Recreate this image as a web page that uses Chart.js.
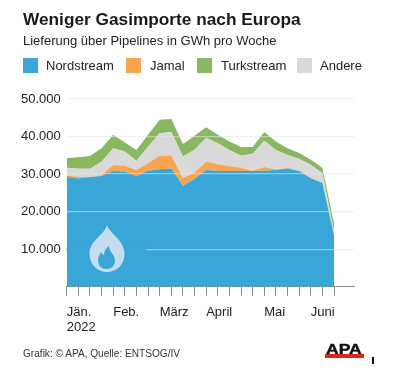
<!DOCTYPE html>
<html lang="de">
<head>
<meta charset="utf-8">
<title>Weniger Gasimporte nach Europa</title>
<script src="https://cdn.jsdelivr.net/npm/chart.js@4"></script>
<style>
  html, body { margin: 0; padding: 0; background: #fff; }
  #page { position: relative; width: 400px; height: 379px; overflow: hidden; font-family: "Liberation Sans", Arial, sans-serif; color: #222; }
  #page > div, #page > canvas { position: absolute; }
  #title { left: 23px; top: 9px; font-size: 17.25px; font-weight: bold; color: #1a1a1a; white-space: nowrap; }
  #subtitle { left: 23px; top: 33px; font-size: 13px; white-space: nowrap; }
  .box { top: 58px; width: 15px; height: 15px; }
  .lbl { top: 57px; font-size: 13px; line-height: 17px; white-space: nowrap; }
  #source { left: 23px; top: 348px; font-size: 10.1px; color: #333; white-space: nowrap; }
  #logo { left: 326px; top: 341px; font-size: 14px; font-weight: bold; color: #111; white-space: nowrap; transform: scaleX(1.25); transform-origin: left; -webkit-text-stroke: 0.4px #111; }
  #logobar { left: 325px; top: 354px; width: 39px; height: 4px; background: #e2231a; }
  #mark { left: 372px; top: 357px; width: 2px; height: 7px; background: #111; }
</style>
</head>
<body>
<div id="page">
  <canvas id="chart" width="400" height="379" style="left:0;top:0"></canvas>
  <div id="title">Weniger Gasimporte nach Europa</div>
  <div id="subtitle">Lieferung über Pipelines in GWh pro Woche</div>
  <div class="box" style="left:23px;background:#38a7d7"></div><div class="lbl" style="left:46px">Nordstream</div>
  <div class="box" style="left:126px;background:#f9a44e"></div><div class="lbl" style="left:150px">Jamal</div>
  <div class="box" style="left:197px;background:#8ab862"></div><div class="lbl" style="left:221px">Turkstream</div>
  <div class="box" style="left:297px;background:#d9d9d9"></div><div class="lbl" style="left:320px">Andere</div>
  <div id="source">Grafik: © APA, Quelle: ENTSOG/IV</div>
  <div id="logo">APA</div>
  <div id="logobar"></div>
  <div id="mark"></div>
</div>
<script>
// Weekly tick labels, only the first week of a month has text
const weekLabels = [
  ["Jän.", "2022"], "", "", "", "Feb.", "", "", "", "März", "", "", "",
  "April", "", "", "", "", "Mai", "", "", "", "Juni", "", ""
];
const yTicks = [10000, 20000, 30000, 40000, 50000];

// GWh per week
const nordstream = [29300, 28800, 29200, 29500, 30850, 30700, 29500, 30900, 31300, 31500, 26900, 28700,
  31100, 30850, 30800, 30800, 30800, 30900, 31100, 31500, 30800, 28900, 27600, 13800];
const jamal = [400, 400, 50, 200, 1550, 1500, 1600, 2000, 3550, 3500, 2000, 1700,
  2200, 1750, 1300, 900, 100, 1000, 100, 100, 100, 100, 100, 100];
const andere = [2000, 2200, 2150, 3600, 4500, 3800, 2400, 4400, 6050, 6200, 5800, 6100,
  6400, 5600, 4300, 3200, 4500, 7000, 5200, 3500, 3100, 3500, 2500, 800];
const turkstream = [2500, 3100, 3400, 3600, 3550, 2400, 2900, 3150, 3550, 3500, 3300, 3700,
  2800, 2250, 2300, 2300, 1800, 2300, 2300, 1800, 1600, 1300, 1500, 2200];

const points = (values) => values.map((v, i) => ({ x: i, y: v }));
const area = (label, values, color, fill) => ({
  label, data: points(values), backgroundColor: color, borderWidth: 0, pointRadius: 0, fill, tension: 0
});

// Flame icon on the blue area, it also covers the left part of the 10.000 line
const flame = {
  id: "flame",
  afterDraw(chart) {
    const { ctx, scales } = chart;
    const y10 = scales.y.getPixelForValue(10000);
    ctx.save();
    ctx.fillStyle = "#38a7d7";
    ctx.fillRect(scales.x.left, y10 - 2, scales.x.getPixelForValue(6.8) - scales.x.left, 4);
    ctx.fillStyle = "#c4deef";
    ctx.beginPath();
    ctx.moveTo(107, 225);
    ctx.bezierCurveTo(110, 234, 124.5, 240, 124.5, 254);
    ctx.bezierCurveTo(124.5, 265, 116, 272, 107, 272);
    ctx.bezierCurveTo(97, 272, 89.5, 264, 89.5, 254);
    ctx.bezierCurveTo(89.5, 240, 104, 236, 107, 225);
    ctx.fill();
    ctx.fillStyle = "#38a7d7";
    ctx.beginPath();
    ctx.moveTo(109, 246);
    ctx.bezierCurveTo(109, 252, 115, 254, 115, 261);
    ctx.bezierCurveTo(115, 266, 111, 269, 107, 269);
    ctx.bezierCurveTo(102, 269, 98, 266, 98, 260);
    ctx.bezierCurveTo(98, 257, 100, 254, 101, 252);
    ctx.bezierCurveTo(102, 254, 103, 255, 104, 255);
    ctx.bezierCurveTo(104, 251, 106, 248, 109, 246);
    ctx.fill();
    ctx.restore();
  }
};

new Chart(document.getElementById("chart"), {
  type: "line",
  data: {
    datasets: [
      area("Nordstream", nordstream, "#38a7d7", "origin"),
      area("Jamal", jamal, "#f9a44e", "-1"),
      area("Andere", andere, "#d9d9d9", "-1"),
      area("Turkstream", turkstream, "#8ab862", "-1")
    ]
  },
  options: {
    responsive: false,
    animation: false,
    layout: { padding: { top: 99, right: 46, bottom: 37.3, left: 0 } },
    plugins: { legend: { display: false }, tooltip: { enabled: false } },
    scales: {
      x: {
        type: "linear",
        min: 0,
        max: 24.72,
        afterBuildTicks: (axis) => { axis.ticks = weekLabels.map((_, i) => ({ value: i })); },
        afterFit: (axis) => { axis.height = 55; },
        border: { color: "#8a8a8a" },
        grid: { drawOnChartArea: false, color: "#8a8a8a", tickLength: 9 },
        ticks: {
          autoSkip: false,
          maxRotation: 0,
          align: "start",
          padding: 9,
          color: "#222",
          font: { family: "Liberation Sans", size: 13, lineHeight: 1.15 },
          callback: (value) => weekLabels[value]
        }
      },
      y: {
        stacked: true,
        min: 0,
        max: 50000,
        afterBuildTicks: (axis) => { axis.ticks = yTicks.map((v) => ({ value: v })); },
        afterFit: (axis) => { axis.width = 66.7; },
        border: { display: false },
        grid: { color: "rgba(230,230,230,0.55)", z: 1, drawTicks: false, lineWidth: 1.2 },
        ticks: {
          padding: 6,
          color: "#222",
          font: { family: "Liberation Sans", size: 13 },
          callback: (value) => value.toLocaleString("de-DE")
        }
      }
    }
  },
  plugins: [flame]
});
</script>
</body>
</html>
